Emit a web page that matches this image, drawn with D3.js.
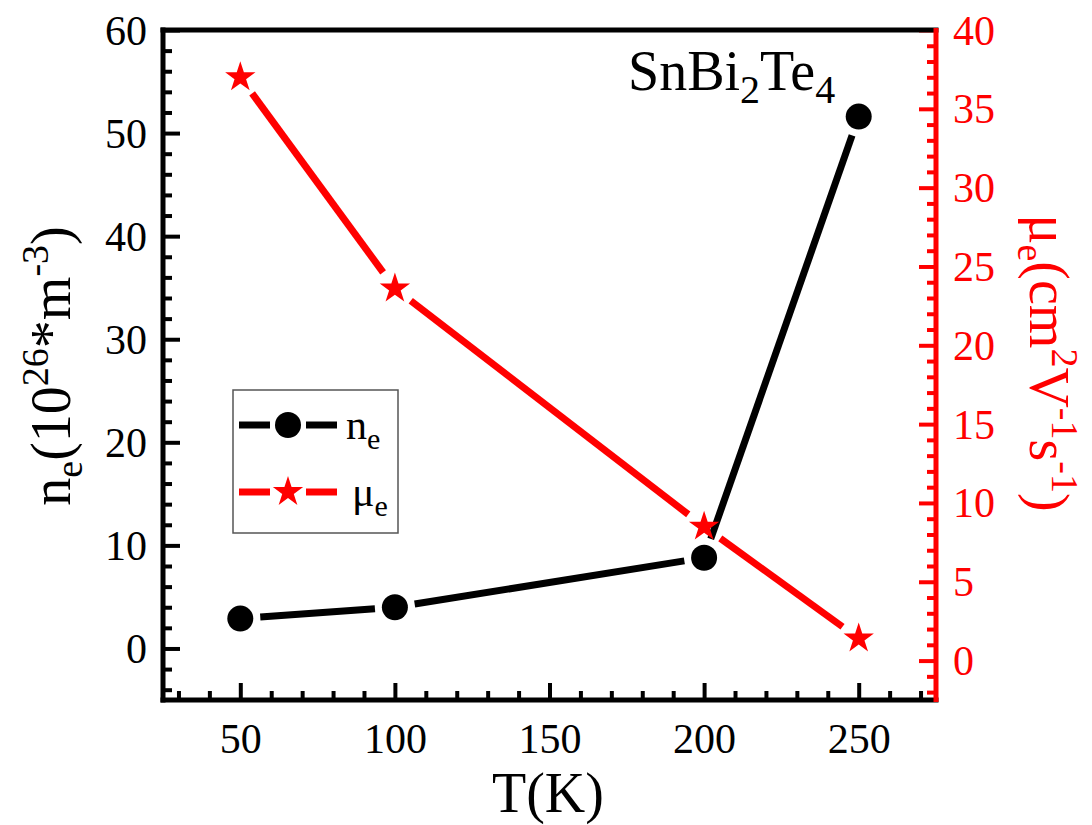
<!DOCTYPE html>
<html>
<head>
<meta charset="utf-8">
<script src="https://cdn.jsdelivr.net/npm/d3@7"></script>
<style>
  body { margin: 0; background: #fff; }
  svg text { font-family: "Liberation Serif", "Times New Roman", serif; }
</style>
</head>
<body>
<div id="chart"></div>
<script>
// values
const temps = [50, 100, 200, 250];
const nE = [2.9, 4.0, 8.8, 51.6];      // 10^26 m^-3
const muE = [37.0, 23.6, 8.5, 1.4];    // cm^2 V^-1 s^-1
const xTicks = [50, 100, 150, 200, 250];
const yLeftTicks = [0, 10, 20, 30, 40, 50, 60];
const yRightTicks = [0, 5, 10, 15, 20, 25, 30, 35, 40];

const width = 1092, height = 825;
const margin = {top: 30, right: 156, bottom: 125, left: 163};
const red = '#ff0000';
const serif = '"Liberation Serif", "Times New Roman", serif';

const svg = d3.select('#chart').append('svg')
  .attr('width', width).attr('height', height)
  .style('font-family', serif);

const x = d3.scaleLinear().domain([25, 275]).range([margin.left, width - margin.right]);
const yL = d3.scaleLinear().domain([-5, 60]).range([height - margin.bottom, margin.top]);
const yR = d3.scaleLinear().domain([-2.5, 40]).range([height - margin.bottom, margin.top]);

const x0 = margin.left, x1 = width - margin.right;
const y0 = height - margin.bottom, y1 = margin.top;

// minor ticks
const xMinor = d3.range(30, 275, 10).filter(v => v % 50 !== 0);
const yLMinor = d3.range(-4, 60, 2).filter(v => v % 10 !== 0);
const yRMinor = d3.range(-2, 40, 1).filter(v => v % 5 !== 0);

function styleAxis(g, color) {
  g.attr('font-family', serif).attr('font-size', 42);
  g.select('.domain').remove();
  g.selectAll('.tick line').attr('stroke', color).attr('stroke-width', 4);
  g.selectAll('.tick text').attr('fill', color)
    .style('font-family', serif).style('font-size', '42px');
}

// x axis (ticks pointing in)
svg.append('g').attr('transform', `translate(0,${y0})`)
  .call(d3.axisBottom(x).tickValues(xMinor).tickSize(-9).tickFormat(''))
  .call(g => styleAxis(g, '#000'));
svg.append('g').attr('transform', `translate(0,${y0})`)
  .call(d3.axisBottom(x).tickValues(xTicks).tickSize(-17).tickPadding(0).tickFormat(d3.format('d')))
  .call(g => styleAxis(g, '#000'))
  .call(g => g.selectAll('.tick text').attr('y', 53).attr('dy', null));

// left axis
svg.append('g').attr('transform', `translate(${x0},0)`)
  .call(d3.axisLeft(yL).tickValues(yLMinor).tickSize(-9).tickFormat(''))
  .call(g => styleAxis(g, '#000'));
svg.append('g').attr('transform', `translate(${x0},0)`)
  .call(d3.axisLeft(yL).tickValues(yLeftTicks).tickSize(-17).tickFormat(d3.format('d')))
  .call(g => styleAxis(g, '#000'))
  .call(g => g.selectAll('.tick text').attr('x', -16).attr('dy', 14));

// right axis
svg.append('g').attr('transform', `translate(${x1},0)`)
  .call(d3.axisRight(yR).tickValues(yRMinor).tickSize(-9).tickFormat(''))
  .call(g => styleAxis(g, red));
svg.append('g').attr('transform', `translate(${x1},0)`)
  .call(d3.axisRight(yR).tickValues(yRightTicks).tickSize(-17).tickFormat(d3.format('d')))
  .call(g => styleAxis(g, red))
  .call(g => g.selectAll('.tick text').attr('x', 17).attr('dy', 14));

// frame
svg.append('line').attr('x1', x0).attr('x2', x1).attr('y1', y1).attr('y2', y1)
  .attr('stroke', '#000').attr('stroke-width', 5).attr('stroke-linecap', 'square');
svg.append('line').attr('x1', x0).attr('x2', x1).attr('y1', y0).attr('y2', y0)
  .attr('stroke', '#000').attr('stroke-width', 5).attr('stroke-linecap', 'square');
svg.append('line').attr('x1', x0).attr('x2', x0).attr('y1', y1).attr('y2', y0)
  .attr('stroke', '#000').attr('stroke-width', 5).attr('stroke-linecap', 'square');
svg.append('line').attr('x1', x1).attr('x2', x1).attr('y1', y1 - 2).attr('y2', y0 + 2)
  .attr('stroke', red).attr('stroke-width', 5);

// lines broken around the markers
function gappedSegments(xs, ys, gap) {
  const pts = xs.map((v, i) => [v, ys[i]]);
  const segs = [];
  for (let i = 0; i < pts.length - 1; i++) {
    const [ax, ay] = pts[i], [bx, by] = pts[i + 1];
    const len = Math.hypot(bx - ax, by - ay);
    const ux = (bx - ax) / len, uy = (by - ay) / len;
    segs.push([ax + ux * gap, ay + uy * gap, bx - ux * gap, by - uy * gap]);
  }
  return segs;
}

function drawSeries(vals, yScale, color, symbol, size) {
  const px = temps.map(t => x(t));
  const py = vals.map(v => yScale(v));
  svg.append('g').selectAll('line')
    .data(gappedSegments(px, py, 20))
    .join('line')
    .attr('x1', d => d[0]).attr('y1', d => d[1])
    .attr('x2', d => d[2]).attr('y2', d => d[3])
    .attr('stroke', color).attr('stroke-width', 7);
  svg.append('g').selectAll('path')
    .data(vals)
    .join('path')
    .attr('transform', (d, i) => `translate(${x(temps[i])},${yScale(d)})`)
    .attr('d', d3.symbol(symbol, size))
    .attr('fill', color);
}

drawSeries(nE, yL, '#000', d3.symbolCircle, Math.PI * 13 * 13);
drawSeries(muE, yR, red, d3.symbolStar, 285);

// legend
const leg = svg.append('g');
leg.append('rect').attr('x', 233).attr('y', 390).attr('width', 165).attr('height', 143)
  .attr('fill', '#fff').attr('stroke', '#555').attr('stroke-width', 1.5);
const legItems = [
  {label: 'n', sub: 'e', color: '#000', symbol: d3.symbolCircle, size: Math.PI * 13 * 13, y: 425, tx: 346},
  {label: 'μ', sub: 'e', color: red, symbol: d3.symbolStar, size: 285, y: 492, tx: 352}
];
legItems.forEach(it => {
  leg.append('line').attr('x1', 239).attr('x2', 270).attr('y1', it.y).attr('y2', it.y)
    .attr('stroke', it.color).attr('stroke-width', 7);
  leg.append('line').attr('x1', 306).attr('x2', 337).attr('y1', it.y).attr('y2', it.y)
    .attr('stroke', it.color).attr('stroke-width', 7);
  leg.append('path').attr('transform', `translate(288,${it.y})`)
    .attr('d', d3.symbol(it.symbol, it.size)).attr('fill', it.color);
  const t = leg.append('text').attr('x', it.tx).attr('y', it.y + 14)
    .style('font-size', '42px').attr('fill', '#000');
  t.append('tspan').text(it.label);
  t.append('tspan').attr('dy', 10).style('font-size', '30px').text(it.sub);
});

// sample label
const lab = svg.append('text').attr('x', 628).attr('y', 90).style('font-size', '56px');
lab.append('tspan').text('SnBi');
lab.append('tspan').attr('dy', 13).style('font-size', '40px').text('2');
lab.append('tspan').attr('dy', -13).text('Te');
lab.append('tspan').attr('dy', 13).style('font-size', '40px').text('4');

// axis titles
svg.append('text').attr('x', 548).attr('y', 812).attr('text-anchor', 'middle')
  .style('font-size', '56px').text('T(K)');

const tl = svg.append('text')
  .attr('transform', 'translate(70,366) rotate(-90)')
  .attr('text-anchor', 'middle').style('font-size', '56px');
tl.append('tspan').text('n');
tl.append('tspan').attr('dy', 12).style('font-size', '38px').text('e');
tl.append('tspan').attr('dy', -12).text('(10');
tl.append('tspan').attr('dy', -22).style('font-size', '38px').text('26');
tl.append('tspan').attr('dy', 22).text('*m');
tl.append('tspan').attr('dy', -22).style('font-size', '38px').text('-3');
tl.append('tspan').attr('dy', 22).text(')');

const tr = svg.append('text')
  .attr('transform', 'translate(1030,363) rotate(90)')
  .attr('text-anchor', 'middle').attr('fill', red).style('font-size', '56px');
tr.append('tspan').text('μ');
tr.append('tspan').attr('dy', 12).style('font-size', '38px').text('e');
tr.append('tspan').attr('dy', -12).text('(cm');
tr.append('tspan').attr('dy', -22).style('font-size', '38px').text('2');
tr.append('tspan').attr('dy', 22).text('V');
tr.append('tspan').attr('dy', -22).style('font-size', '38px').text('-1');
tr.append('tspan').attr('dy', 22).text('s');
tr.append('tspan').attr('dy', -22).style('font-size', '38px').text('-1');
tr.append('tspan').attr('dy', 22).text(')');
</script>
</body>
</html>
